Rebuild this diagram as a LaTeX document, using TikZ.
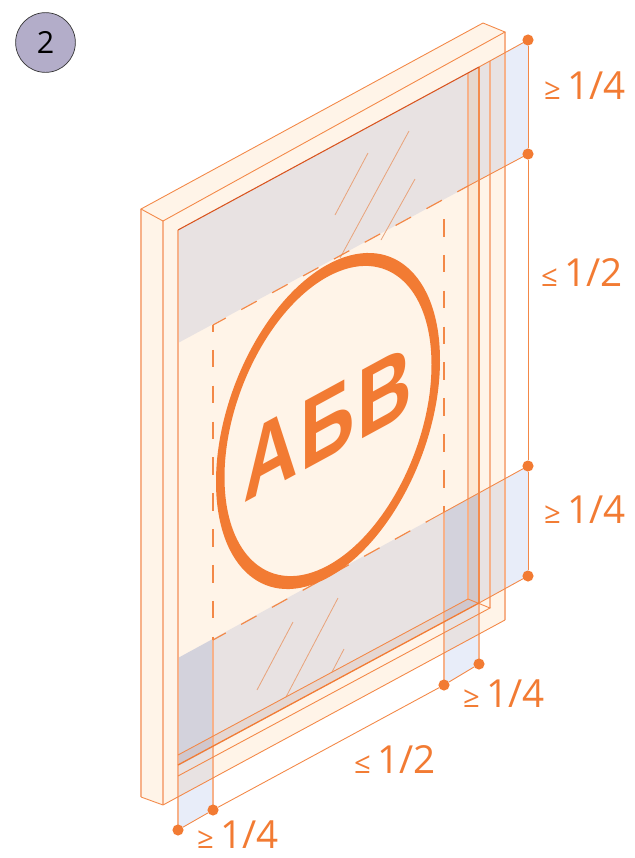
\documentclass[tikz,border=0pt]{standalone}
\usepackage{fontspec}
\setmainfont{Open Sans}
\newfontfamily\logofont{Liberation Sans}
\usepackage{xcolor}
\usetikzlibrary{calc}
\definecolor{signorange}{HTML}{F27B33}
\definecolor{darkedge}{HTML}{D9541E}
\definecolor{softedge}{HTML}{F7B189}
\definecolor{creamfill}{HTML}{FFF4E8}
\definecolor{revealfill}{HTML}{FDE8D3}
\definecolor{sillfill}{HTML}{FCE8D8}
\definecolor{bandfill}{HTML}{E8EDF9}
\definecolor{badgefill}{HTML}{B3ADC9}
\definecolor{scratch}{HTML}{E8A47C}
\tikzset{
  frameline/.style = {draw=signorange!90!white, line width=0.75pt},
  softline/.style = {draw=softedge, line width=1.5pt},
  dimline/.style = {draw=signorange!90!white, line width=0.75pt},
  dashline/.style = {draw=signorange!90!white, line width=1pt},
  scratchline/.style = {draw=scratch, line width=0.7pt},
  dimdot/.style = {circle, fill=signorange, inner sep=0pt, minimum size=9.5pt},
  dimlabel/.style = {text=signorange, inner sep=0pt, font=\fontsize{33}{33}\selectfont},
  bandshape/.style = {fill=bandfill}
}
\newcommand{\geqlabel}{{\fontsize{25}{25}\selectfont≥}\,1/4}
\newcommand{\leqlabel}{{\fontsize{25}{25}\selectfont≤}\,1/2}

\begin{document}
\begin{tikzpicture}[x=0.03cm, y=-0.03cm]
  \useasboundingbox (0,0) rectangle (634,858);

  % frame
  \fill[creamfill] (141,209) -- (483,23) -- (505,32) -- (505,620) -- (163,805) -- (141,797) -- cycle;

  % reveal and sill
  \fill[revealfill] (468,73) -- (479,67) -- (479,603) -- (468,599) -- cycle;
  \fill[sillfill] (178,755) -- (468,599) -- (479,603) -- (178,765) -- cycle;

  % bands and strips
  \begin{scope}[blend mode=multiply]
    \fill[bandshape] (178,230) -- (528,40) -- (528,154) -- (178,343) -- cycle;
    \fill[bandshape] (178,658) -- (528,466) -- (528,576) -- (178,766) -- cycle;
    \fill[bandshape] (178,658) -- (213,639) -- (213,810) -- (178,830) -- cycle;
    \fill[bandshape] (444,512) -- (479,493) -- (479,664) -- (444,685) -- cycle;
  \end{scope}

  % scratches on the glass
  \foreach \xa/\ya/\xb/\yb in {335/215/368/153, 340/258/409/131, 381/240/415/179,
      257/690/293/622, 286/697/338/598, 332/672/344/649}{
    \draw[scratchline] (\xa,\ya) -- (\xb,\yb);
  }

  % verticals
  \draw[softline] (141,209) -- (141,797);
  \draw[softline] (163,221) -- (163,805);
  \draw[softline] (178,230) -- (178,830);
  \draw[softline] (213,640) -- (213,810);
  \draw[softline] (444,512) -- (444,685);
  \draw[softline] (468,73) -- (468,599);
  \draw[softline] (490,61) -- (490,608);
  \draw[softline] (505,32) -- (505,620);
  \draw[softline] (479,603) -- (479,664);
  \draw[draw=signorange!70!softedge, line width=1.5pt] (479,67) -- (479,603);

  % frame edges
  \draw[frameline] (163,805) -- (141,797);
  \draw[frameline] (141,209) -- (483,23) -- (505,32) -- (163,221) -- cycle;
  \draw[frameline] (163,805) -- (505,620);
  \draw[frameline] (178,755) -- (468,599) -- (490,608) -- (178,776);
  \draw[draw=signorange, line width=1.1pt] (178,765) -- (479,603);
  \draw[draw=darkedge, line width=0.9pt] (178,230) -- (479,67);

  % dashed sign outline
  \draw[dashline, dash pattern=on 15pt off 15.6pt, dash phase=9.4pt] (213,325) -- (213,640);
  \draw[dashline, dash pattern=on 15pt off 15.6pt] (444,219) -- (444,512);
  \draw[dashline, dash pattern=on 15pt off 15pt, dash phase=2.5pt] (213,325) -- (468,186);
  \draw[dashline, dash pattern=on 15pt off 15pt, dash phase=2.5pt] (213,640) -- (428,521);
  \draw[frameline] (468,186) -- (528,154);
  \draw[frameline] (428,521) -- (528,466);
  \draw[frameline] (479,603) -- (528,576);
  \draw[frameline] (479,67) -- (528,40);

  % sign
  \coordinate (signcentre) at (328,421);
  \fill[signorange, even odd rule, x={(0.03cm,0.01629cm)}, y={(0cm,-0.03cm)}]
    (signcentre) ellipse [x radius=112, y radius=156.6]
    (signcentre) ellipse [x radius=103.5, y radius=144.5];
  \node[cm={0.76,0.413,0,1,(0,0)}, transform shape, text=signorange, inner sep=0pt,
    font=\logofont\bfseries\fontsize{85}{85}\selectfont] (signtext) at (328,423) {А\kern3pt Б\kern3pt В};

  % dimension points
  \foreach \n/\x/\y in {ra/528/40, rb/528/154, rc/528/466, rd/528/576,
      ba/178/830, bb/213/810, bc/444/685, bd/479/664}{
    \node[dimdot] (\n) at (\x,\y) {};
  }
  \draw[dimline] (ra) -- (rb) -- (rc) -- (rd);
  \draw[dimline] (ba) -- (bb) -- (bc) -- (bd);

  % labels
  \node[dimlabel] (labtop) at (585,86) {\geqlabel};
  \node[dimlabel] (labmid) at (582,272) {\leqlabel};
  \node[dimlabel] (labbot) at (585,510) {\geqlabel};
  \node[dimlabel] (labbr) at (504,694) {\geqlabel};
  \node[dimlabel] (labbm) at (395,759) {\leqlabel};
  \node[dimlabel] (labbl) at (238,835) {\geqlabel};

  % badge
  \node[circle, draw=black!80, fill=badgefill, line width=0.6pt, minimum size=51pt, inner sep=0pt,
    font=\fontsize{26}{26}\selectfont] (badge) at (45.5,42.5) {2};
\end{tikzpicture}
\end{document}
